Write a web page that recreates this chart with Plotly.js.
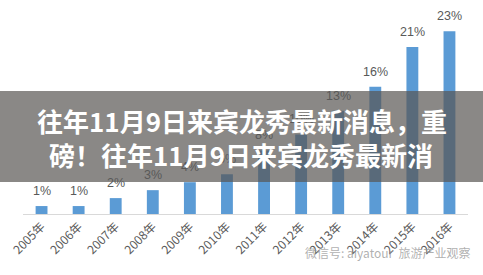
<!DOCTYPE html>
<html>
<head>
<meta charset="utf-8">
<script src="https://cdn.plot.ly/plotly-3.0.1.min.js"></script>
<style>html,body{margin:0;padding:0;background:#fff;}#chart{width:483px;height:275px;}</style>
</head>
<body>
<div id="chart"></div>
<script>
const years = ["2005年","2006年","2007年","2008年","2009年","2010年","2011年","2012年","2013年","2014年","2015年","2016年"];
const shares = [1, 1, 2, 3, 4, 5, 8, 10, 13, 16, 21, 23];
const titleLine1 = "往年11月9日来宾龙秀最新消息，重";
const titleLine2 = "磅！往年11月9日来宾龙秀最新消";
const watermark = "微信号: aiyatour  旅游产业观察";

const W = 483, H = 275;
const m = {l: 23, r: 15, t: 20, b: 61};
const ph = H - m.t - m.b, pw = W - m.l - m.r;
const py = v => (H - m.b - v) / ph;
const px = v => (v - m.l) / pw;

const trace = {
  type: 'bar',
  x: years,
  y: shares,
  marker: {color: '#5B9BD5'},
  hoverinfo: 'none'
};

const valueLabels = years.map((yr, i) => ({
  text: shares[i] + '%', x: yr, y: shares[i], xref: 'x', yref: 'y',
  showarrow: false, xanchor: 'center', yanchor: 'bottom', yshift: 6,
  font: {family: 'Liberation Sans, Arial, sans-serif', size: 12.5, color: '#595959'}
}));

const layout = {
  width: W, height: H,
  margin: m,
  paper_bgcolor: '#fff', plot_bgcolor: '#fff',
  showlegend: false,
  bargap: 0.68,
  font: {family: '"Noto Sans CJK SC", sans-serif'},
  xaxis: {
    type: 'category',
    tickangle: -45,
    tickfont: {family: '"Noto Sans CJK SC", sans-serif', size: 12, color: '#595959'},
    showline: true, linecolor: '#d9d9d9', linewidth: 1,
    ticks: '', showgrid: false, zeroline: false, fixedrange: true
  },
  yaxis: {
    range: [0, 24.4],
    visible: false, showgrid: false, zeroline: false, fixedrange: true
  },
  shapes: [{
    type: 'rect', xref: 'paper', yref: 'paper', layer: 'above',
    x0: px(0), x1: px(W), y0: py(182), y1: py(91),
    fillcolor: 'rgba(88,86,82,0.7)', line: {width: 0}
  }],
  annotations: valueLabels.concat([
    {text: titleLine1, xref: 'paper', yref: 'paper', x: px(242), y: py(121),
     showarrow: false, xanchor: 'center', yanchor: 'middle',
     font: {family: '"Noto Sans CJK SC", sans-serif', size: 26, color: '#ffffff', weight: 700}},
    {text: titleLine2, xref: 'paper', yref: 'paper', x: px(241), y: py(154),
     showarrow: false, xanchor: 'center', yanchor: 'middle',
     font: {family: '"Noto Sans CJK SC", sans-serif', size: 26, color: '#ffffff', weight: 700}},
    {text: watermark, xref: 'paper', yref: 'paper', x: px(388), y: py(252),
     showarrow: false, xanchor: 'center', yanchor: 'middle',
     font: {family: '"Noto Sans CJK SC", sans-serif', size: 12, color: 'rgba(150,150,150,0.75)'}}
  ])
};

Plotly.newPlot('chart', [trace], layout, {displayModeBar: false, staticPlot: true});
</script>
</body>
</html>
